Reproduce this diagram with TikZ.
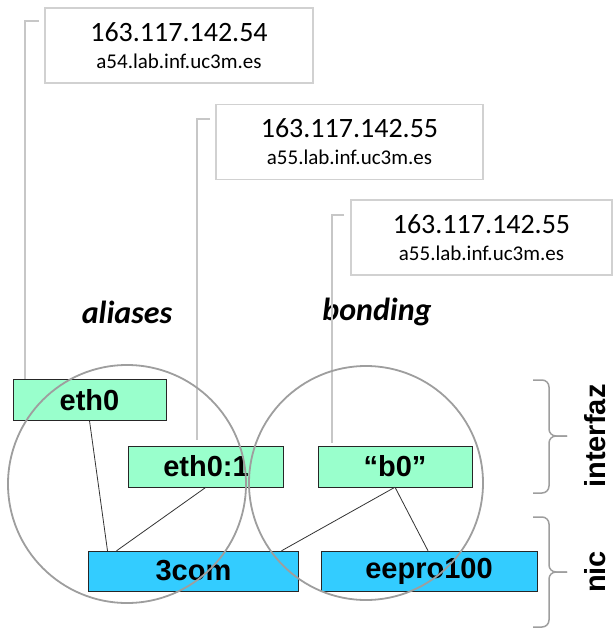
\documentclass[tikz,border=0pt]{standalone}
\usepackage{fontspec}
\setmainfont{Liberation Sans}
\newfontfamily\calibri{Carlito}
\definecolor{ifgreen}{HTML}{99FFCC}
\definecolor{nicblue}{HTML}{33CCFF}
\tikzset{
  iface/.style={draw=black!85, fill=ifgreen, minimum height=41pt, inner sep=0pt,
    font=\fontsize{29}{30}\selectfont\bfseries},
  nicbox/.style={draw=black!85, fill=nicblue, minimum height=40pt, inner sep=0pt,
    font=\fontsize{29}{30}\selectfont\bfseries},
  ipbox/.style={draw=black!18, line width=1.6pt, minimum height=75pt, inner sep=0pt,
    align=center, font=\calibri\fontsize{21}{27}\selectfont},
  leader/.style={draw=black!22, line width=1.8pt},
  link/.style={draw=black!80, line width=0.8pt},
  ring/.style={draw=black!38, line width=1.8pt},
  grpbrace/.style={draw=black!38, line width=1.5pt, rounded corners=7pt},
}
\begin{document}
\begin{tikzpicture}[x=1pt,y=-1pt]
  \useasboundingbox (0,0) rectangle (613,628);

  % Address boxes
  \node[ipbox, minimum width=268pt] (ip54) at (179,45.5)
    {{\fontsize{28}{28}\selectfont 163.117.142.54}\\a54.lab.inf.uc3m.es};
  \node[ipbox, minimum width=267pt] (ip55a) at (349.5,142)
    {{\fontsize{28}{28}\selectfont 163.117.142.55}\\a55.lab.inf.uc3m.es};
  \node[ipbox, minimum width=261pt] (ip55b) at (481.5,237.5)
    {{\fontsize{28}{28}\selectfont 163.117.142.55}\\a55.lab.inf.uc3m.es};

  % Group titles
  \node[font=\calibri\bfseries\itshape\fontsize{32}{34}\selectfont] (aliases) at (127,312) {aliases};
  \node[font=\calibri\bfseries\itshape\fontsize{32}{34}\selectfont] (bonding) at (377,312) {bonding};

  % Interfaces and cards
  \node[iface, minimum width=153pt] (eth0) at (89.5,400) {eth0};
  \node[iface, minimum width=155pt] (eth01) at (206,466.5) {eth0:1};
  \node[iface, minimum width=154pt] (b0) at (395,466.5) {“b0”};
  \node[nicbox, minimum width=210pt] (com) at (193.5,571) {3com};
  \node[nicbox, minimum width=216pt] (eepro) at (429,571) {eepro100};

  % Leader lines
  \draw[leader] ([shift={(-5,14)}]ip54.north west) -| ([xshift=12pt]eth0.north west);
  \draw[leader] ([shift={(-5,15)}]ip55a.north west) -| ([shift={(69,-6)}]eth01.north west);
  \draw[leader] ([shift={(-6,16)}]ip55b.north west) -| ([shift={(14,-3)}]b0.north west);

  % Links
  \draw[link] (eth0.south) -- ([xshift=-86pt]com.north);
  \draw[link] (eth01.south) -- ([xshift=-77pt]com.north);
  \draw[link] (b0.south) -- ([xshift=88pt]com.north);
  \draw[link] (b0.south) -- ([xshift=-1pt]eepro.north);

  % Circles
  \draw[ring] (127,484) circle (119);
  \draw[ring] (366,483) circle (117);

  % Braces
  \draw[grpbrace] (533,380) -- (549,380) -- (549,436) -- (567,436);
  \draw[grpbrace] (533,493) -- (549,493) -- (549,436) -- (567,436);
  \draw[grpbrace] (533,517) -- (549,517) -- (549,572) -- (567,572);
  \draw[grpbrace] (533,627) -- (549,627) -- (549,572) -- (567,572);

  % Layer labels
  \node[rotate=90, font=\fontsize{29}{30}\selectfont\bfseries] (interfaz) at (595,436) {interfaz};
  \node[rotate=90, font=\fontsize{29}{30}\selectfont\bfseries] (nic) at (595,572) {nic};
\end{tikzpicture}
\end{document}
